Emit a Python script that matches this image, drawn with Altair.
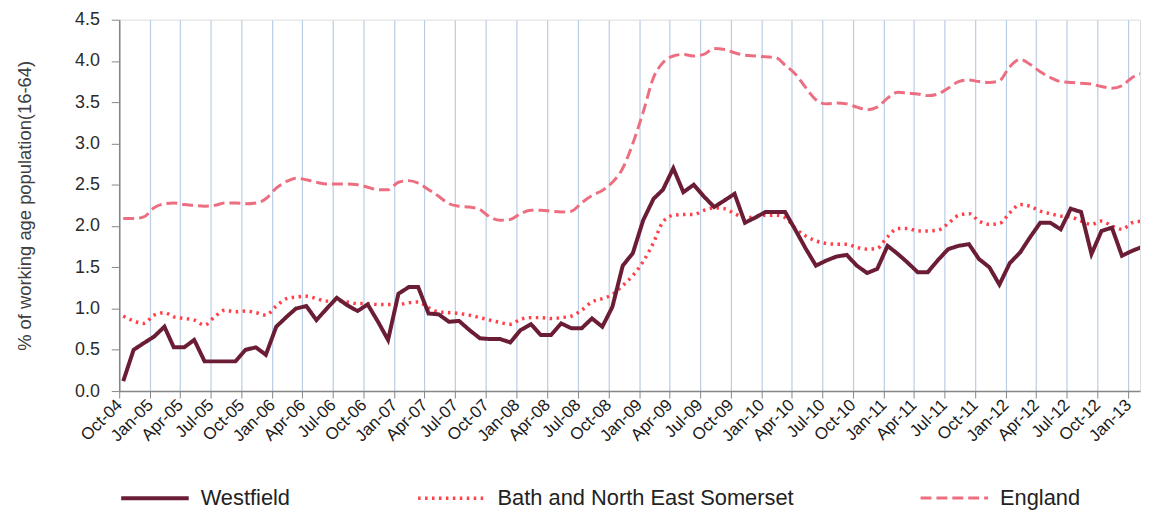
import altair as alt
import pandas as pd

# ---- data (monthly, Oct-04 .. Feb-13) ----
months = pd.date_range("2004-10-01", "2013-02-01", freq="MS")
dates = [(m + pd.Timedelta(days=12)).strftime("%Y-%m-%dT00:00:00") for m in months]

westfield = [0.12, 0.50, 0.58, 0.66, 0.78, 0.53, 0.53, 0.62, 0.36, 0.36,
             0.36, 0.36, 0.50, 0.53, 0.44, 0.78, 0.90, 1.00, 1.03, 0.86,
             1.00, 1.13, 1.04, 0.97, 1.05, 0.84, 0.62, 1.18, 1.26, 1.26,
             0.94, 0.93, 0.84, 0.85, 0.74, 0.64, 0.63, 0.63, 0.59, 0.74,
             0.81, 0.68, 0.68, 0.82, 0.76, 0.76, 0.88, 0.78, 1.02, 1.52,
             1.67, 2.07, 2.33, 2.44, 2.70, 2.41, 2.50, 2.36, 2.23, 2.31,
             2.39, 2.04, 2.10, 2.17, 2.17, 2.17, 1.95, 1.73, 1.52, 1.58,
             1.63, 1.65, 1.52, 1.43, 1.48, 1.76, 1.66, 1.56, 1.44, 1.44,
             1.59, 1.72, 1.76, 1.78, 1.60, 1.50, 1.29, 1.55, 1.68, 1.86,
             2.04, 2.04, 1.96, 2.21, 2.17, 1.66, 1.94, 1.98, 1.64, 1.70, 1.75]

bnes = [0.91, 0.85, 0.82, 0.92, 0.95, 0.90, 0.88, 0.86, 0.80, 0.90,
        0.98, 0.96, 0.97, 0.95, 0.92, 1.03, 1.12, 1.14, 1.15, 1.12,
        1.09, 1.09, 1.08, 1.06, 1.06, 1.05, 1.05, 1.05, 1.07, 1.08,
        1.01, 0.96, 0.95, 0.94, 0.92, 0.89, 0.86, 0.83, 0.81, 0.87,
        0.89, 0.89, 0.88, 0.89, 0.91, 0.98, 1.08, 1.12, 1.17, 1.28,
        1.40, 1.57, 1.80, 2.05, 2.13, 2.14, 2.14, 2.19, 2.22, 2.21,
        2.15, 2.10, 2.11, 2.13, 2.13, 2.10, 1.97, 1.88, 1.82, 1.79,
        1.78, 1.78, 1.74, 1.72, 1.73, 1.87, 1.97, 1.97, 1.94, 1.94,
        1.95, 2.03, 2.13, 2.15, 2.06, 2.02, 2.03, 2.16, 2.26, 2.24,
        2.18, 2.15, 2.12, 2.11, 2.06, 2.02, 2.06, 2.00, 1.96, 2.04, 2.06]

england = [2.09, 2.09, 2.11, 2.22, 2.27, 2.28, 2.26, 2.25, 2.24, 2.25,
           2.28, 2.28, 2.27, 2.28, 2.33, 2.46, 2.54, 2.58, 2.56, 2.53,
           2.51, 2.51, 2.51, 2.50, 2.47, 2.44, 2.44, 2.53, 2.55, 2.52,
           2.44, 2.36, 2.27, 2.24, 2.23, 2.20, 2.11, 2.07, 2.08, 2.15,
           2.19, 2.19, 2.18, 2.17, 2.18, 2.28, 2.37, 2.43, 2.53, 2.70,
           3.00, 3.38, 3.80, 3.98, 4.06, 4.08, 4.06, 4.08, 4.15, 4.14,
           4.10, 4.07, 4.06, 4.05, 4.04, 3.95, 3.84, 3.68, 3.53, 3.48,
           3.49, 3.48, 3.44, 3.41, 3.44, 3.55, 3.62, 3.61, 3.60, 3.58,
           3.60, 3.67, 3.75, 3.77, 3.75, 3.74, 3.76, 3.93, 4.02, 3.96,
           3.87, 3.80, 3.75, 3.74, 3.73, 3.72, 3.69, 3.67, 3.70, 3.80, 3.85]

series = ["Westfield", "Bath and North East Somerset", "England"]
colors = ["#6B1D35", "#FF4048", "#EC6E80"]
dashes = [[1, 0], [2.5, 4.5], [11, 5]]
widths = [4, 3, 4]

y_ticks = [0.0, 0.5, 1.0, 1.5, 2.0, 2.5, 3.0, 3.5, 4.0, 4.5]
tick_dates = pd.date_range("2004-10-01", "2013-01-01", freq="3MS")
x_ticks = [alt.DateTime(year=int(t.year), month=int(t.month), date=1) for t in tick_dates]

rows = []
for name, vals in zip(series, [westfield, bnes, england]):
    for d, v in zip(dates, vals):
        rows.append({"date": d, "value": v, "series": name})
df = pd.DataFrame(rows)

FONT = "Liberation Sans"

x_enc = alt.X(
    "date:T",
    scale=alt.Scale(domain=[alt.DateTime(year=2004, month=10, date=1),
                            alt.DateTime(year=2013, month=2, date=5)]),
    axis=alt.Axis(values=x_ticks, format="%b-%y", labelAngle=315,
                  labelAlign="right", labelBaseline="middle",
                  labelFontSize=17, labelFont=FONT, labelColor="#1a1a1a",
                  labelPadding=4, tickSize=7, tickColor="#868686",
                  domainColor="#868686", domainWidth=1.5,
                  grid=True, gridColor="#B9CDE5", gridWidth=1.2,
                  labelOverlap=False, labelFlush=False),
    title=None,
)
y_enc = alt.Y(
    "value:Q",
    scale=alt.Scale(domain=[0, 4.5]),
    axis=alt.Axis(values=y_ticks, format=".1f", grid=False,
                  labelFontSize=18, labelFont=FONT, labelColor="#2a2a2a",
                  tickSize=8, tickColor="#868686", domainColor="#868686",
                  domainWidth=1.5, labelPadding=12,
                  title="% of working age population(16-64)",
                  titleFont=FONT, titleFontSize=18.5, titleFontWeight="normal",
                  titleColor="#404040", titlePadding=40),
)
legend = alt.Legend(
    title=None, orient="none", legendX=0, legendY=446, direction="horizontal",
    columns=3, symbolType="stroke", symbolSize=4624, labelFontSize=22,
    labelFont=FONT, labelColor="#222222", labelLimit=400, columnPadding=121,
    labelOffset=10, padding=0,
)
color_enc = alt.Color("series:N", scale=alt.Scale(domain=series, range=colors), legend=legend)
dash_enc = alt.StrokeDash("series:N", scale=alt.Scale(domain=series, range=dashes), legend=legend)
width_enc = alt.StrokeWidth("series:N", scale=alt.Scale(domain=series, range=widths), legend=legend)

base = alt.Chart(df).encode(x=x_enc, y=y_enc, color=color_enc,
                            strokeDash=dash_enc, strokeWidth=width_enc,
                            order=alt.Order("date:T"))

smooth = base.transform_filter(alt.datum.series != "Westfield").mark_line(interpolate="monotone", clip=True)
jagged = base.transform_filter(alt.datum.series == "Westfield").mark_line(interpolate="linear", clip=True)

chart = alt.layer(smooth, jagged).properties(
    width=1028, height=374,
    autosize=alt.AutoSizeParams(type="none"),
    padding={"left": 112, "top": 10, "right": 2, "bottom": 121},
).configure_view(stroke=None).configure(background="white")

chart.save("out.html", embed_options={"renderer": "svg", "actions": False})
